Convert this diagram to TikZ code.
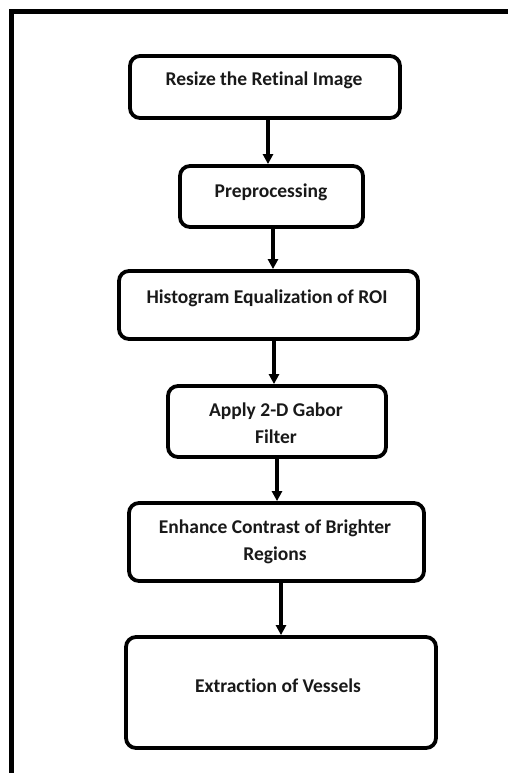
\documentclass[tikz,border=0pt]{standalone}
\usepackage{fontspec}
\setmainfont{Carlito}[Ligatures=NoCommon]
\usetikzlibrary{arrows.meta}
\begin{document}
\begin{tikzpicture}[x=1pt,y=-1pt,
  stepbox/.style={draw=black, line width=3.8pt, rounded corners=10pt, fill=white, inner sep=0pt},
  lbl/.style={font=\bfseries\fontsize{19.5}{27}\selectfont, align=center, inner sep=0pt, text=black!90},
  arr/.style={line width=3.2pt, -{Triangle[width=10pt,length=10pt]}},
  frame/.style={line width=5pt}]
\useasboundingbox (0,0) rectangle (508,773);
\clip (0,0) rectangle (508,773);
\fill[white] (0,0) rectangle (508,773);
\draw[frame] (520,11.5) -- (11.5,11.5) -- (11.5,790);

\node[stepbox, minimum width=270pt, minimum height=62pt] (b1) at (265,87) {};
\node[stepbox, minimum width=183pt, minimum height=61pt] (b2) at (271.5,196.5) {};
\node[stepbox, minimum width=299pt, minimum height=68pt] (b3) at (268.5,305) {};
\node[stepbox, minimum width=218pt, minimum height=71pt] (b4) at (277,421.5) {};
\node[stepbox, minimum width=295pt, minimum height=78pt] (b5) at (276.5,542) {};
\node[stepbox, minimum width=310pt, minimum height=111pt] (b6) at (281,692.5) {};

\node[lbl] (t1) at (264,80) {Resize the Retinal Image};
\node[lbl] (t2) at (271,192) {Preprocessing};
\node[lbl] (t3) at (267,298) {Histogram Equalization of ROI};
\node[lbl] (t4) at (276,423) {Apply 2-D Gabor\\Filter};
\node[lbl] (t5) at (275,542) {Enhance Contrast of Brighter\\Regions};
\node[lbl] (t6) at (278,686) {Extraction of Vessels};

\draw[arr] ([xshift=3pt]b1.south) -- ([xshift=-3.5pt]b2.north);
\draw[arr] ([xshift=1.5pt]b2.south) -- ([xshift=4.5pt]b3.north);
\draw[arr] ([xshift=5.5pt]b3.south) -- ([xshift=-3pt]b4.north);
\draw[arr] ([xshift=0pt]b4.south) -- ([xshift=0.5pt]b5.north);
\draw[arr] ([xshift=4.5pt]b5.south) -- ([xshift=0pt]b6.north);
\end{tikzpicture}
\end{document}
